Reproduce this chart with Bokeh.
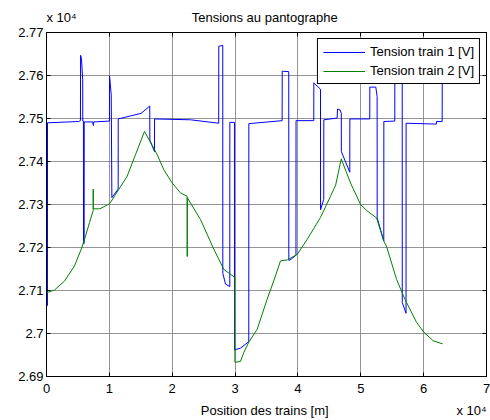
from bokeh.plotting import figure
from bokeh.models import (Range1d, LinearAxis, FixedTicker, Legend,
                          LegendItem, CustomJSTickFormatter)
from bokeh.embed import file_html
from bokeh.resources import INLINE

# ---- data (position in m, voltage in V) ----
train1_x = [0, 150, 160, 5100, 5400, 5420, 5560, 5760, 5770, 5880, 5890, 5990, 6000,
            7380, 7420, 7480, 7500, 10020, 10030, 10300, 10400, 11400, 11410,
            15060, 16430, 16440, 17180, 17190, 22900, 27400, 27410, 28040, 28050,
            28480, 29160, 29170, 29900, 29910, 30870, 32180, 32190, 37490, 37500,
            38540, 38550, 39000, 39690, 39700, 42520, 42530, 43590, 43600, 44110,
            44120, 46240, 46300, 46700, 46900, 46910, 48250, 48260, 51430, 51440,
            52390, 52600, 52610, 53660, 53670, 55410, 55420, 56590, 56600, 57200,
            57210, 62040, 62050, 62950, 62960]
train1_v = [27065, 27065, 27490, 27493, 27495, 27647, 27640, 27590, 27494, 27494, 27209, 27209, 27492,
            27492, 27484, 27484, 27492, 27494, 27599, 27555, 27316, 27336, 27499,
            27512, 27529, 27450, 27423, 27499, 27497, 27489, 27668, 27670, 27140,
            27115, 27109, 27491, 27491, 26962, 26966, 26981, 27488, 27495, 27610,
            27609, 27170, 27174, 27182, 27495, 27495, 27583, 27568, 27288, 27312,
            27497, 27501, 27522, 27520, 27512, 27423, 27375, 27499, 27499, 27573,
            27573, 27551, 27269, 27215, 27493, 27494, 27640, 27640, 27072, 27047,
            27489, 27487, 27493, 27493, 27650]

train2_x = [0, 1270, 2860, 4450, 5520, 6050, 6840, 7430, 7435, 7445, 8500, 10060,
            11500, 12840, 14160, 15590, 17610, 18660, 20000, 21320, 22380, 22385,
            22395, 24500, 26620, 28210, 29800, 29960, 29970, 30865, 31390, 32190,
            33520, 35110, 36430, 37230, 38300, 39890, 41480, 43590, 45180, 46000,
            46890, 48370, 49960, 51020, 52500, 53660, 54090, 55690, 57010, 58870,
            60030, 61520, 63000]
train2_v = [27095, 27101, 27122, 27157, 27196, 27219, 27258, 27286, 27336, 27290, 27290, 27302,
            27335, 27366, 27416, 27470, 27416, 27381, 27350, 27327, 27319, 27179,
            27316, 27265, 27196, 27149, 27132, 27131, 26933, 26935, 26956, 26980,
            27010, 27080, 27134, 27169, 27171, 27184, 27219, 27270, 27319, 27345,
            27406, 27350, 27300, 27285, 27269, 27215, 27203, 27126, 27080, 27026,
            27003, 26983, 26976]

x_ticks = [0, 10000, 20000, 30000, 40000, 50000, 60000, 70000]
x_tick_labels = ["0", "1", "2", "3", "4", "5", "6", "7"]
y_ticks = [26900, 27000, 27100, 27200, 27300, 27400, 27500, 27600, 27700]
y_tick_labels = ["2.69", "2.7", "2.71", "2.72", "2.73", "2.74", "2.75", "2.76", "2.77"]

title_text = "Tensions au pantographe"
xlabel_text = "Position des trains [m]"
exponent_text = "x 10\u2074"
legend_labels = ["Tension train 1 [V]", "Tension train 2 [V]"]

FONT = "Liberation Sans"

p = figure(width=490, height=420, output_backend="svg", toolbar_location=None,
           x_range=Range1d(0, 70000), y_range=Range1d(26900, 27700),
           min_border_left=46, min_border_right=4, min_border_top=32,
           min_border_bottom=42)
p.title.visible = False
p.background_fill_color = "white"
p.border_fill_color = "white"
p.outline_line_color = "black"
p.outline_line_width = 1
p.outline_line_alpha = 1

xt = FixedTicker(ticks=x_ticks)
yt = FixedTicker(ticks=y_ticks)
p.xaxis.ticker = xt
p.yaxis.ticker = yt
p.xaxis.major_label_overrides = dict(zip(x_ticks, x_tick_labels))
p.yaxis.major_label_overrides = dict(zip(y_ticks, y_tick_labels))

for ax in (p.xaxis[0], p.yaxis[0]):
    ax.major_tick_in = 4
    ax.major_tick_out = 0
    ax.minor_tick_line_color = None
    ax.axis_line_color = "black"
    ax.major_tick_line_color = "black"
    ax.major_label_text_font = FONT
    ax.major_label_text_font_size = "13px"
    ax.major_label_text_color = "black"

p.xaxis.major_label_standoff = 7
p.yaxis.major_label_standoff = 3

empty = CustomJSTickFormatter(code="return ''")
ax_r = LinearAxis(ticker=FixedTicker(ticks=y_ticks), formatter=empty,
                  major_tick_in=4, major_tick_out=0, minor_tick_line_color=None,
                  major_label_standoff=0, axis_line_color="black",
                  major_label_text_font_size="1px")
ax_t = LinearAxis(ticker=FixedTicker(ticks=x_ticks), formatter=empty,
                  major_tick_in=4, major_tick_out=0, minor_tick_line_color=None,
                  major_label_standoff=0, axis_line_color="black",
                  major_label_text_font_size="1px")
p.add_layout(ax_r, "right")
p.add_layout(ax_t, "above")

# text row above the plot: "x 10^4" (left) and the title (centered)
top_pos = [2386, 34713]
ax_top_text = LinearAxis(ticker=FixedTicker(ticks=top_pos),
                         major_label_overrides={2386: exponent_text, 34713: title_text},
                         major_tick_line_color=None, minor_tick_line_color=None,
                         axis_line_color=None, major_label_standoff=2,
                         major_label_text_font=FONT, major_label_text_font_size="13px",
                         major_label_text_color="black")
p.add_layout(ax_top_text, "above")

# text row below the tick labels: x label (centered) and "x 10^4" (right)
bot_pos = [34713, 67613]
ax_bot_text = LinearAxis(ticker=FixedTicker(ticks=bot_pos),
                         major_label_overrides={34713: xlabel_text, 67613: exponent_text},
                         major_tick_line_color=None, minor_tick_line_color=None,
                         axis_line_color=None, major_label_standoff=1,
                         major_label_text_font=FONT, major_label_text_font_size="13px",
                         major_label_text_color="black")
p.add_layout(ax_bot_text, "below")

p.xgrid.ticker = xt
p.ygrid.ticker = yt
p.grid.grid_line_color = "#7a7a7a"
p.grid.grid_line_width = 1
p.grid.grid_line_alpha = 0.8

r1 = p.line(train1_x, train1_v, line_color="#0000ff", line_width=1)
r2 = p.line(train2_x, train2_v, line_color="#008000", line_width=1)

legend = Legend(items=[LegendItem(label=legend_labels[0], renderers=[r1]),
                       LegendItem(label=legend_labels[1], renderers=[r2])],
                location="top_right")
legend.border_line_color = "black"
legend.border_line_width = 1
legend.border_line_alpha = 1
legend.background_fill_color = "white"
legend.background_fill_alpha = 1
legend.padding = 5
legend.spacing = 4
legend.margin = 6
legend.glyph_width = 42
legend.glyph_height = 14
legend.label_height = 14
legend.label_standoff = 5
legend.label_text_font = FONT
legend.label_text_font_size = "13px"
legend.label_text_color = "black"
p.add_layout(legend)

open("out.html", "w").write(file_html(p, INLINE))
